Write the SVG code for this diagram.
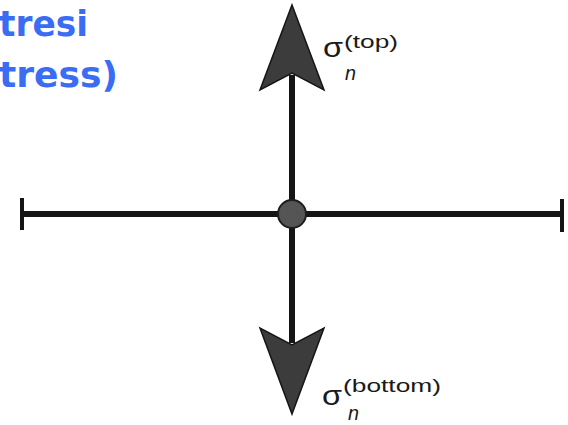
<svg xmlns="http://www.w3.org/2000/svg" width="568" height="425" viewBox="0 0 568 425">
<style>
.blue{font-family:"DejaVu Sans","Liberation Sans",sans-serif;font-weight:bold;font-size:35px;fill:#3a6cf4}
.sig{font-family:"Liberation Sans",Arial,sans-serif;font-size:28px;fill:#1a1a1a}
.sup{font-family:"Liberation Sans",Arial,sans-serif;font-size:19px;fill:#1a1a1a}
.sub{font-family:"Liberation Sans",Arial,sans-serif;font-size:20px;font-style:italic;fill:#1a1a1a}
.bar{stroke:#151515;stroke-width:6;fill:none}
.tick{stroke:#151515;stroke-width:4}
.head{fill:#3c3c3c;stroke:#151515;stroke-width:1.5;stroke-linejoin:miter}
</style>
<rect width="568" height="425" fill="#ffffff"/>
<g id="title">
<text class="blue" x="-1" y="36" textLength="89" lengthAdjust="spacingAndGlyphs">tresi</text>
<text class="blue" x="-1" y="87" textLength="119" lengthAdjust="spacingAndGlyphs">tress)</text>
</g>
<g id="beam">
<line class="bar" x1="22" y1="214" x2="562" y2="214"/>
<line class="tick" x1="22" y1="198" x2="22" y2="230"/>
<line class="tick" x1="562" y1="199" x2="562" y2="232"/>
</g>
<g id="connectors">
<line class="bar" x1="292" y1="75" x2="292" y2="343"/>
<polygon class="head" points="292,5 324,90 292,73 260,90"/>
<polygon class="head" points="292,414 324,328 292,345 260,328"/>
</g>
<g id="point">
<circle cx="292" cy="214" r="14" fill="#555555" stroke="#1e1e1e" stroke-width="2"/>
</g>
<g id="label-top">
<text class="sig" x="323" y="57" textLength="20" lengthAdjust="spacingAndGlyphs">σ</text>
<text class="sup" x="344" y="48" textLength="54" lengthAdjust="spacingAndGlyphs">(top)</text>
<text class="sub" x="345" y="80" textLength="11" lengthAdjust="spacingAndGlyphs">n</text>
</g>
<g id="label-bottom">
<text class="sig" x="322" y="405" textLength="20" lengthAdjust="spacingAndGlyphs">σ</text>
<text class="sup" x="343" y="392" textLength="98" lengthAdjust="spacingAndGlyphs">(bottom)</text>
<text class="sub" x="348" y="420" textLength="11" lengthAdjust="spacingAndGlyphs">n</text>
</g>
</svg>
